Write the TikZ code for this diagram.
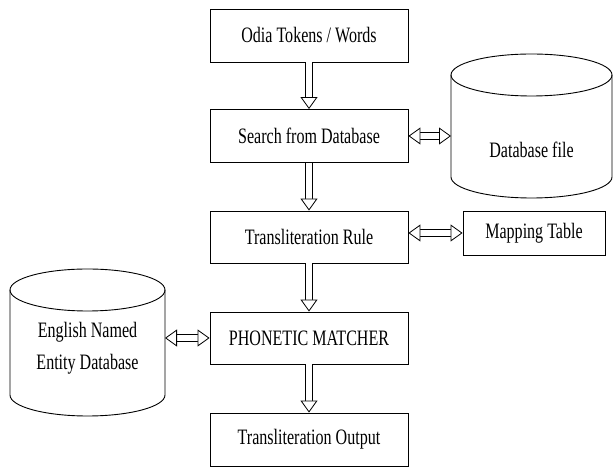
\documentclass[tikz,border=0pt]{standalone}
\usepackage{fontspec}
\setmainfont{Liberation Serif}[FakeStretch=0.73]
\usetikzlibrary{arrows.meta}
\begin{document}
\begin{tikzpicture}[x=1pt,y=1pt]

  \tikzset{block/.style={draw, line width=0.9pt, minimum width=198pt, minimum height=53pt, inner sep=0pt, font=\fontsize{22}{26}\selectfont},
           label/.style={inner sep=0pt, align=center, font=\fontsize{22}{32}\selectfont},
           tip/.style={Triangle[line width=0.8pt, width=17pt, length=12pt, fill=white]},
           hollow/.style={double, double distance=6.4pt, line width=0.8pt, -{Triangle[line width=0.8pt, width=17pt, length=12pt, fill=white]}},
           twoway/.style={double, double distance=6.4pt, line width=0.8pt, {Triangle[line width=0.8pt, width=17pt, length=12pt, fill=white]}-{Triangle[line width=0.8pt, width=17pt, length=12pt, fill=white]}}}
  \useasboundingbox (0,0) rectangle (613,468);
% Blocks
	\node[block] (tokens) at (309,432.5) {Odia Tokens / Words};
	\node[block] (search) at (309,332) {Search from Database};
	\node[block, minimum height=52pt] (rule) at (309,231) {Transliteration Rule};
	\node[block, minimum height=52pt] (matcher) at (309,130) {PHONETIC MATCHER};
	\node[block] (output) at (309,28.5) {Transliteration Output};
	\node[block, minimum width=142pt, minimum height=44pt] (mapping) at (534,235) {Mapping Table};
% Databases
	%Database file
	\draw[line width=0.9pt] (531.5,393) ellipse (80.5pt and 21pt);
	\draw[line width=0.9pt] (451,393) -- (451,291) arc[start angle=180, end angle=360, x radius=80.5pt, y radius=21pt] -- (612,393);
	\node[label] (dbfile) at (531.5,318) {Database file};
	\coordinate (dbside) at (451,342);
	%English names
	\draw[line width=0.9pt] (87.5,178) ellipse (77.5pt and 21pt);
	\draw[line width=0.9pt] (10,178) -- (10,73) arc[start angle=180, end angle=360, x radius=77.5pt, y radius=21pt] -- (165,178);
	\node[label] (english) at (87.5,120) {English Named\\Entity Database};
	\coordinate (engside) at (165,125);
% Arrows
	\draw[hollow] (tokens.south) -- (search.north);
	\draw[hollow] (search.south) -- (rule.north);
	\draw[hollow] (rule.south) -- (matcher.north);
	\draw[hollow] (matcher.south) -- (output.north);
	\draw[twoway] (search.east) -- (search.east -| dbside);
	\draw[twoway] (rule.east |- mapping.west) -- (mapping.west);
	\draw[twoway] (matcher.west) -- (matcher.west -| engside);

\end{tikzpicture}
\end{document}
